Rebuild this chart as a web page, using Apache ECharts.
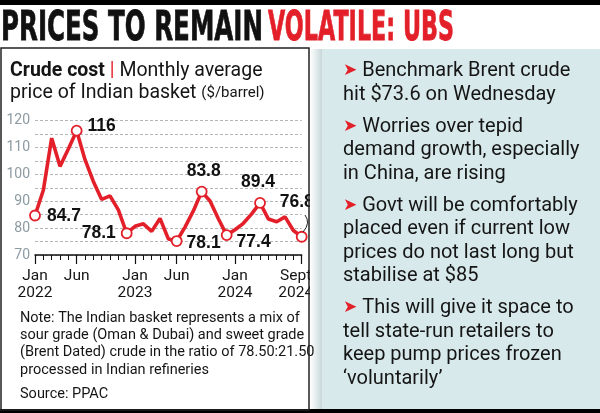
<!DOCTYPE html>
<html><head><meta charset="utf-8">
<script src="https://cdn.jsdelivr.net/npm/echarts@6/dist/echarts.min.js"></script>
<style>html,body{margin:0;padding:0;background:#fff}#c{width:600px;height:413px}</style>
</head><body><div id="c"></div>
<script>
// ---- data ----
const months = ['Jan 2022','Feb 2022','Mar 2022','Apr 2022','May 2022','Jun 2022','Jul 2022','Aug 2022','Sep 2022','Oct 2022','Nov 2022','Dec 2022',
  'Jan 2023','Feb 2023','Mar 2023','Apr 2023','May 2023','Jun 2023','Jul 2023','Aug 2023','Sep 2023','Oct 2023','Nov 2023','Dec 2023',
  'Jan 2024','Feb 2024','Mar 2024','Apr 2024','May 2024','Jun 2024','Jul 2024','Aug 2024','Sep 2024'];
const prices = [84.7, 94.1, 113.5, 103.0, 109.5, 116.3, 105.5, 97.4, 90.7, 92.0, 86.8, 78.1,
  80.7, 81.6, 78.8, 83.6, 76.0, 75.2, 80.4, 86.4, 93.6, 90.1, 83.5, 77.4,
  79.4, 81.8, 85.3, 89.4, 83.4, 82.4, 84.2, 79.1, 76.8];
const calloutIndex = [0, 5, 11, 17, 20, 23, 27, 32];
const calloutText = ['84.7', '116', '78.1', '78.1', '83.8', '77.4', '89.4', '76.8'];
const xTickLabelIndex = [0, 5, 12, 17, 24, 32];
const xTickLabelText = ['Jan\n2022', 'Jun', 'Jan\n2023', 'Jun', 'Jan\n2024', 'Sept\n2024'];
const yMin = 70, yMax = 120, yStep = 5, yLabelStep = 10;
const titleBlack = 'PRICES TO REMAIN';
const titleRed = 'VOLATILE: UBS';
const chartTitleBold = 'Crude cost';
const chartTitleRest = 'Monthly average';
const chartTitleLine2 = 'price of Indian basket';
const chartUnit = '($/barrel)';
const noteLines = ['Note: The Indian basket represents a mix of', 'sour grade (Oman & Dubai) and sweet grade', '(Brent Dated) crude in the ratio of 78.50:21.50', 'processed in Indian refineries'];
const sourceText = 'Source: PPAC';
const bullets = [
  ['Benchmark Brent crude', 'hit $73.6 on Wednesday'],
  ['Worries over tepid', 'demand growth, especially', 'in China, are rising'],
  ['Govt will be comfortably', 'placed even if current low', 'prices do not last long but', 'stabilise at $85'],
  ['This will give it space to', 'tell state-run retailers to', 'keep pump prices frozen', '\u2018voluntarily\u2019']
];

// ---- styles ----
const RED = '#e3202a';
const PANEL = '#d8e9eb';
const TXT = '#151515';
const FONT = 'Roboto';

const cv = document.createElement('canvas').getContext('2d');
function measure(text, font) { cv.font = font; return cv.measureText(text).width; }
const titleFont = 'bold 41px "DejaVu Sans"';
const sxBlack = 262 / measure(titleBlack, titleFont);
const sxRed = 186 / measure(titleRed, titleFont);

const graphics = [
  { type: 'rect', shape: { x: 0, y: 0, width: 600, height: 5 }, style: { fill: '#000' }, z: 100 },
  { type: 'rect', shape: { x: 0, y: 409, width: 600, height: 4 }, style: { fill: '#000' }, z: 100 },
  { type: 'text', x: 1, y: 29, scaleX: sxBlack, z: 100,
    style: { text: titleBlack, font: titleFont, fill: '#111', stroke: '#111', lineWidth: 0.8, verticalAlign: 'middle' } },
  { type: 'text', x: 268, y: 29, scaleX: sxRed, z: 100,
    style: { text: titleRed, font: titleFont, fill: RED, stroke: RED, lineWidth: 0.8, verticalAlign: 'middle' } },
  // left panel border
  { type: 'rect', shape: { x: 1, y: 48, width: 308, height: 362 }, style: { fill: 'none', stroke: '#222', lineWidth: 1.5 }, z: 100 },
  // right panel shadow + panel
  { type: 'rect', shape: { x: 310, y: 49, width: 12, height: 360 },
    style: { fill: { type: 'linear', x: 0, y: 0, x2: 1, y2: 0, colorStops: [{ offset: 0, color: '#ffffff' }, { offset: 0.5, color: '#e4eced' }, { offset: 1, color: '#c7d6d8' }] } }, z: 100 },
  { type: 'rect', shape: { x: 322, y: 49, width: 278, height: 360 }, style: { fill: PANEL }, z: 100 },
  // chart heading
  { type: 'text', x: 10, y: 71, z: 100,
    style: { text: '{b|' + chartTitleBold + '} {r||} ' + chartTitleRest, verticalAlign: 'middle',
      font: '19.5px ' + FONT, fill: TXT,
      rich: { b: { fontFamily: FONT, fontSize: 19.5, fontWeight: 'bold', fill: TXT }, r: { fontFamily: FONT, fontSize: 19.5, fill: RED } } } },
  { type: 'text', x: 10, y: 93, z: 100,
    style: { text: chartTitleLine2 + ' {u|' + chartUnit + '}', verticalAlign: 'middle', font: '19.5px ' + FONT, fill: TXT,
      rich: { u: { fontFamily: FONT, fontSize: 15, fill: TXT } } } },
  { type: 'text', x: 20, y: 394, z: 100, style: { text: sourceText, font: '14.5px ' + FONT, fill: TXT, verticalAlign: 'middle' } },
  // leader for last callout
  { type: 'bezierCurve', z: 100, shape: { x1: 305, y1: 215, cpx1: 311, cpy1: 223, x2: 303, y2: 232 },
    style: { stroke: '#222', lineWidth: 1, fill: 'none' } }
];
noteLines.forEach((t, i) => graphics.push({ type: 'text', x: 20, y: 318 + i * 17.3, z: 100,
  style: { text: t, font: '14.5px ' + FONT, fill: TXT, verticalAlign: 'middle' } }));
let yy = 71;
bullets.forEach((para) => {
  para.forEach((line, li) => {
    graphics.push({ type: 'text', x: 343, y: yy, z: 101,
      style: { text: li === 0 ? '{a|\u27A4} ' + line : line, font: '20px ' + FONT, fill: TXT, verticalAlign: 'middle',
        rich: { a: { fontFamily: '"DejaVu Sans"', fontSize: 17, fill: RED } } } });
    yy += 23.5;
  });
  yy += 8.5;
});

const seriesData = prices.map((v, i) => {
  const k = calloutIndex.indexOf(i);
  if (k < 0) return { value: v, symbol: 'none' };
  return { value: v, symbol: 'circle', label: { show: true, formatter: calloutText[k] } };
});
const labelPos = {
  0: { position: 'right', distance: 6, offset: [0, 1] },
  5: { position: 'right', distance: 5, offset: [0, -4] },
  11: { position: 'left', distance: 5, offset: [0, 0] },
  17: { position: 'right', distance: 4, offset: [0, 2] },
  20: { position: 'top', distance: 6, offset: [2, 0] },
  23: { position: 'right', distance: 4, offset: [0, 7] },
  27: { position: 'top', distance: 6, offset: [-2, 0] },
  32: { position: 'top', distance: 20, offset: [-5, 0] }
};
seriesData.forEach((d, i) => { if (labelPos[i]) Object.assign(d.label, labelPos[i]); });

const chart = echarts.init(document.getElementById('c'), null, { renderer: 'canvas' });
chart.setOption({
  animation: false,
  backgroundColor: '#fff',
  grid: { left: 35, right: 298.3, top: 120.7, bottom: 158 },
  xAxis: [
    { type: 'category', data: months, boundaryGap: false,
      axisLine: { lineStyle: { color: '#111', width: 1.5 } },
      axisTick: { interval: 0, length: 5, lineStyle: { color: '#111', width: 1 } },
      axisLabel: { interval: (i) => xTickLabelIndex.includes(i), margin: 13,
        formatter: (v, i) => { const k = xTickLabelIndex.indexOf(i); if (k < 0) return ''; const t = xTickLabelText[k];
          return k === xTickLabelIndex.length - 1 ? t.split('\n').map(s => '{e|' + s + '}').join('\n') : t; },
        color: TXT, fontFamily: FONT, fontSize: 15.5, lineHeight: 16.5,
        rich: { e: { fontFamily: FONT, fontSize: 15.5, lineHeight: 16.5, color: TXT, padding: [0, 12, 0, 0] } } },
      splitLine: { show: false } },
    { type: 'category', data: months, boundaryGap: false, position: 'bottom',
      axisLine: { show: false },
      axisTick: { interval: (i) => xTickLabelIndex.includes(i), length: 9, lineStyle: { color: '#111', width: 1.2 } },
      axisLabel: { show: false }, splitLine: { show: false } }
  ],
  yAxis: { type: 'value', min: yMin, max: yMax, interval: yStep,
    axisLine: { show: false }, axisTick: { show: false },
    axisLabel: { formatter: (v) => (v % yLabelStep === 0 ? String(v) : ''), color: '#8c9aa2', fontFamily: FONT, fontSize: 14, margin: 5 },
    splitLine: { lineStyle: { color: '#b5b5b5', type: [3, 2], width: 1 } } },
  series: [{
    type: 'line', data: seriesData, xAxisIndex: 0, clip: false, showAllSymbol: true,
    symbol: 'circle', symbolSize: 10,
    itemStyle: { color: '#fff', borderColor: RED, borderWidth: 1.8 },
    lineStyle: { color: RED, width: 3.6 },
    label: { show: false, color: '#111', fontFamily: '"Liberation Sans"', fontWeight: 'bold', fontSize: 17.5 },
    z: 5
  }],
  graphic: graphics
});
</script></body></html>
